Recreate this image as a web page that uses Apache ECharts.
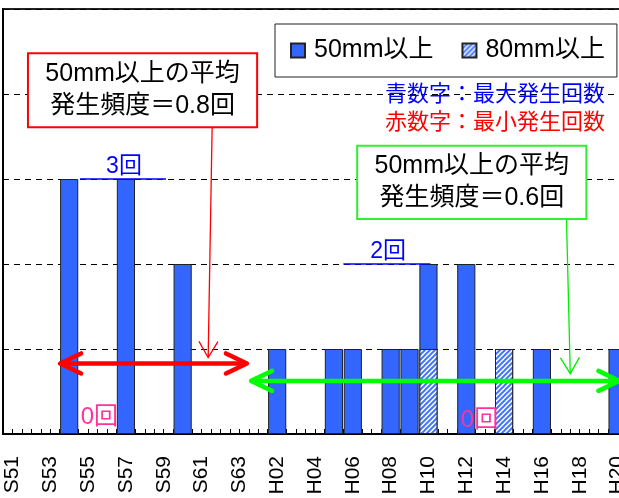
<!DOCTYPE html>
<html><head><meta charset="utf-8">
<script src="https://cdn.jsdelivr.net/npm/echarts@6/dist/echarts.min.js"></script>
<style>html,body{margin:0;padding:0;background:#fff}#c{width:619px;height:498px}</style>
</head><body><div id="c"></div>
<script>
// ---- data ----
const categories = ['S51','S52','S53','S54','S55','S56','S57','S58','S59','S60','S61','S62','S63',
  'H01','H02','H03','H04','H05','H06','H07','H08','H09','H10','H11','H12','H13','H14','H15','H16','H17','H18','H19','H20'];
const rain50 = [0,0,0,3,0,0,3,0,0,2,0,0,0, 0,1,0,0,1,1,0,1,1,2,0,2,0,1,0,1,0,0,0,1];
const rain80 = [0,0,0,0,0,0,0,0,0,0,0,0,0, 0,0,0,0,0,0,0,0,0,1,0,0,0,1,0,0,0,0,0,0];
const seriesNames = ['50mm以上','80mm以上'];
const yTicks = [0,1,2,3,4,5];
const noteMaxText = '青数字：最大発生回数';
const noteMinText = '赤数字：最小発生回数';
const avgTexts = ['50mm以上の平均\n発生頻度＝0.8回','50mm以上の平均\n発生頻度＝0.6回'];
const maxLabels = ['3回','2回'];
const minLabels = ['0回','0回'];

// ---- annotation placement (data units: x = category units, y = count) ----
const place = {
  redBox:   {x0:1.32, x1:13.44, y0:4.48, y1:3.61},
  greenBox: {x0:18.73, x1:30.85, y0:3.39, y1:2.53},
  redPointer:   {x0:11.06, y0:3.61, x1:10.85, y1:0.90},
  greenPointer: {x0:29.8, y0:2.53, x1:30.0, y1:0.71},
  redSpan:   {x0:3.02, x1:12.9, y:0.83},
  greenSpan: {x0:13.12, x1:32.6, y:0.625},
  maxMarks: [{x:6.4, y:3.15, lx0:4.07, lx1:8.62, ly:3}, {x:20.37, y:2.15, lx0:18.0, lx1:22.6, ly:2}],
  minMarks: [{x:5.1, y:0.2}, {x:25.2, y:0.166}]
};

const FONT = '"Liberation Sans", Arial, "Noto Sans CJK JP", sans-serif';
const BLUE = '#3366ff';

// hatched pattern
const pc = document.createElement('canvas');
pc.width = 5; pc.height = 5;
const g = pc.getContext('2d');
g.fillStyle = '#ffffff'; g.fillRect(0,0,5,5);
g.strokeStyle = '#4477ff'; g.lineWidth = 2;
g.beginPath();
g.moveTo(-1,6); g.lineTo(6,-1);
g.moveTo(-4,4); g.lineTo(4,-4);
g.moveTo(1,9); g.lineTo(9,1);
g.stroke();
const hatch = {image: pc, repeat: 'repeat'};

const chart = echarts.init(document.getElementById('c'), null, {renderer:'canvas'});
chart.setOption({
  animation: false,
  grid: {left: 3, top: 9, bottom: 64, right: -8, outerBoundsMode: 'none', containLabel: false,
         show: true, borderColor: '#222', borderWidth: 2, backgroundColor: 'transparent'},
  legend: {
    left: 275, top: 24,
    padding: [14, 12, 14, 15],
    itemWidth: 14, itemHeight: 14, itemGap: 28,
    borderColor: '#222', borderWidth: 1,
    backgroundColor: '#fff',
    selectedMode: false,
    textStyle: {fontSize: 25, color: '#000', fontFamily: FONT, padding: [0,0,0,4]},
    data: [{name: seriesNames[0], icon: 'rect'}, {name: seriesNames[1], icon: 'rect'}]
  },
  xAxis: [{
    type: 'category', data: categories,
    axisLine: {show: true, lineStyle: {color: '#000', width: 2}},
    axisTick: {show: false},
    axisLabel: {interval: 1, rotate: 90, margin: 22, fontSize: 21, color: '#000', fontFamily: FONT, hideOverlap: false},
    splitLine: {show: false}
  }, {
    type: 'value', min: 0, max: categories.length, interval: 0.5, position: 'bottom',
    axisLine: {show: false},
    axisTick: {show: true, inside: true, length: 5, lineStyle: {color: '#000', width: 1}},
    axisLabel: {show: false},
    splitLine: {show: false}
  }],
  yAxis: {
    type: 'value', min: yTicks[0], max: yTicks[yTicks.length-1], interval: 1,
    axisLine: {show: true, lineStyle: {color: '#000', width: 2}},
    axisTick: {show: false},
    axisLabel: {show: false},
    splitLine: {show: true, lineStyle: {color: '#000', width: 1, type: [6,5]}}
  },
  series: [{
    name: seriesNames[0], type: 'bar', data: rain50.map(v => v || null),
    barCategoryGap: '4%', barGap: '-100%',
    itemStyle: {color: BLUE, borderColor: '#222', borderWidth: 1},
    emphasis: {disabled: true}
  }, {
    name: seriesNames[1], type: 'bar', data: rain80.map(v => v || null),
    barCategoryGap: '4%', barGap: '-100%',
    itemStyle: {color: hatch, borderColor: '#222', borderWidth: 1},
    emphasis: {disabled: true}
  }]
});

const px = x => chart.convertToPixel({xAxisIndex: 1}, x);
const py = y => chart.convertToPixel({yAxisIndex: 0}, y);

function arrowHead(x0, y0, tx, ty, back, half) {
  const dx = tx - x0, dy = ty - y0, L = Math.hypot(dx, dy);
  const ux = dx / L, uy = dy / L, nx = -uy, ny = ux;
  return [[tx - ux*back + nx*half, ty - uy*back + ny*half], [tx, ty], [tx - ux*back - nx*half, ty - uy*back - ny*half]];
}
function pointer(p, color) {
  const x0 = px(p.x0), y0 = py(p.y0), x1 = px(p.x1), y1 = py(p.y1);
  return [
    {type: 'line', shape: {x1: x0, y1: y0, x2: x1, y2: y1}, style: {stroke: color, lineWidth: 1.3}, z: 20},
    {type: 'polyline', shape: {points: arrowHead(x0, y0, x1, y1, 16, 9.5)}, style: {stroke: color, lineWidth: 1.3, fill: null}, z: 20}
  ];
}
function span(s, color) {
  const x0 = px(s.x0), x1 = px(s.x1), y = py(s.y);
  const st = {stroke: color, lineWidth: 4.5, fill: null, lineCap: 'round', lineJoin: 'round'};
  return [
    {type: 'line', shape: {x1: x0 + 2, y1: y, x2: x1 - 2, y2: y}, style: st, z: 20},
    {type: 'polyline', shape: {points: arrowHead(x1, y, x0, y, 21, 10)}, style: st, z: 20},
    {type: 'polyline', shape: {points: arrowHead(x0, y, x1, y, 21, 10)}, style: st, z: 20}
  ];
}
function box(b, text, color) {
  const x0 = px(b.x0), x1 = px(b.x1), y0 = py(b.y0), y1 = py(b.y1);
  return [
    {type: 'rect', shape: {x: x0, y: y0, width: x1 - x0, height: y1 - y0}, style: {fill: '#fff', stroke: color, lineWidth: 2}, z: 21},
    {type: 'text', x: (x0 + x1) / 2, y: (y0 + y1) / 2, style: {text: text, fill: '#000', font: '25px ' + FONT, lineHeight: 32, align: 'center', verticalAlign: 'middle'}, z: 22}
  ];
}
const els = [];
els.push(...pointer(place.redPointer, '#ff0000'));
els.push(...pointer(place.greenPointer, '#00ee00'));
els.push(...span(place.redSpan, '#ff0000'));
els.push(...span(place.greenSpan, '#00ff00'));
els.push(...box(place.redBox, avgTexts[0], '#ff0000'));
els.push(...box(place.greenBox, avgTexts[1], '#33ee33'));
place.maxMarks.forEach((m, i) => {
  els.push({type: 'line', shape: {x1: px(m.lx0), y1: py(m.ly), x2: px(m.lx1), y2: py(m.ly)}, style: {stroke: '#0000ff', lineWidth: 1.5}, z: 19});
  els.push({type: 'text', x: px(m.x), y: py(m.y), style: {text: maxLabels[i], fill: '#0000ff', font: '23px ' + FONT, align: 'center', verticalAlign: 'middle'}, z: 19});
});
place.minMarks.forEach((m, i) => {
  els.push({type: 'text', x: px(m.x), y: py(m.y), style: {text: minLabels[i], fill: '#ff3399', font: '24px ' + FONT, align: 'center', verticalAlign: 'middle'}, z: 19});
});
els.push({type: 'text', right: 14, top: 84, style: {text: noteMaxText, fill: '#0000ff', font: '22px ' + FONT}, z: 19});
els.push({type: 'text', right: 14, top: 112, style: {text: noteMinText, fill: '#ff0000', font: '22px ' + FONT}, z: 19});
chart.setOption({graphic: els});
</script></body></html>
